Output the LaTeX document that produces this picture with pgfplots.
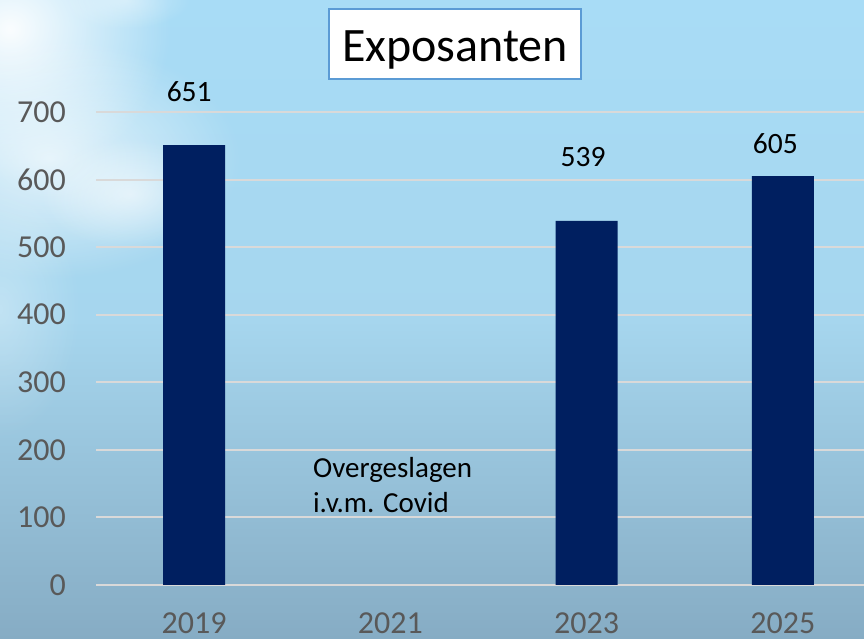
\documentclass[border=0pt]{standalone}
\usepackage{pgfplots}
\pgfplotsset{compat=1.18}
\usepackage{fontspec}
\setmainfont{Carlito}
\usetikzlibrary{fadings}
\tikzfading[name=softfade, inner color=transparent!0, outer color=transparent!100]
\definecolor{barcol}{RGB}{0,31,96}
\definecolor{gridcol}{RGB}{217,217,217}
\definecolor{tickcol}{RGB}{89,89,89}
\definecolor{skytop}{RGB}{168,220,246}
\definecolor{skymid}{RGB}{166,214,238}
\definecolor{skybot}{RGB}{134,172,196}
\definecolor{boxcol}{RGB}{91,155,213}
\begin{document}
\begin{tikzpicture}[x=1pt,y=1pt]
\path[use as bounding box] (0,0) rectangle (864,639);
\clip (0,0) rectangle (864,639);
\shade[top color=skytop, bottom color=skybot, middle color=skymid] (0,0) rectangle (864,639);
% clouds (soft blobs: the visible part is about half of each rectangle)
\fill[white, opacity=0.95, path fading=softfade] (-150,460) rectangle (170,760);
\fill[white, opacity=0.7, path fading=softfade] (-140,360) rectangle (240,600);
\fill[white, opacity=0.55, path fading=softfade] (40,390) rectangle (220,500);
\fill[white, opacity=0.4, path fading=softfade] (60,610) rectangle (190,668);
\fill[white, opacity=0.3, path fading=softfade] (-80,200) rectangle (80,460);
\begin{axis}[
  scale only axis, width=785pt, height=473pt,
  at={(96pt,54pt)}, anchor=south west,
  xmin=-0.5, xmax=3.5, ymin=0, ymax=700,
  ybar, bar width=62pt,
  axis line style={draw=none},
  major tick length=0pt,
  ymajorgrids, grid style={gridcol, line width=2pt},
  xtick={0,1,2,3}, xticklabels={2019,2021,2023,2025},
  ytick={0,100,...,700},
  tick label style={font=\fontsize{32}{38}\selectfont, text=tickcol, inner sep=0pt},
  yticklabel style={anchor=east, xshift=-30pt},
  xticklabel style={anchor=north, yshift=-28pt},
  /pgf/number format/assume math mode=true,
  clip=false,
]
\addplot[fill=barcol, draw=none] coordinates {(0,651) (2,539) (3,605)};
\node[anchor=base, font=\fontsize{29.5}{35}\selectfont] at (axis cs:-0.025,715) {651};
\node[anchor=base, font=\fontsize{29.5}{35}\selectfont] at (axis cs:-0.018+2,620) {539};
\node[anchor=base, font=\fontsize{29.5}{35}\selectfont] at (axis cs:-0.038+3,639) {605};
\node[anchor=base west, inner sep=0pt, font=\fontsize{29}{35}\selectfont] at (axis cs:0.605,159.8) {Overgeslagen};
\node[anchor=base west, inner sep=0pt, font=\fontsize{29}{35}\selectfont] at (axis cs:0.605,106.6) {i.v.m. Covid};
\end{axis}
\draw[boxcol, line width=2pt, fill=white] (329,560) rectangle (581,630);
\node[anchor=base, inner sep=0pt, font=\fontsize{48}{58}\selectfont] at (455,577) {Exposanten};
\end{tikzpicture}
\end{document}
